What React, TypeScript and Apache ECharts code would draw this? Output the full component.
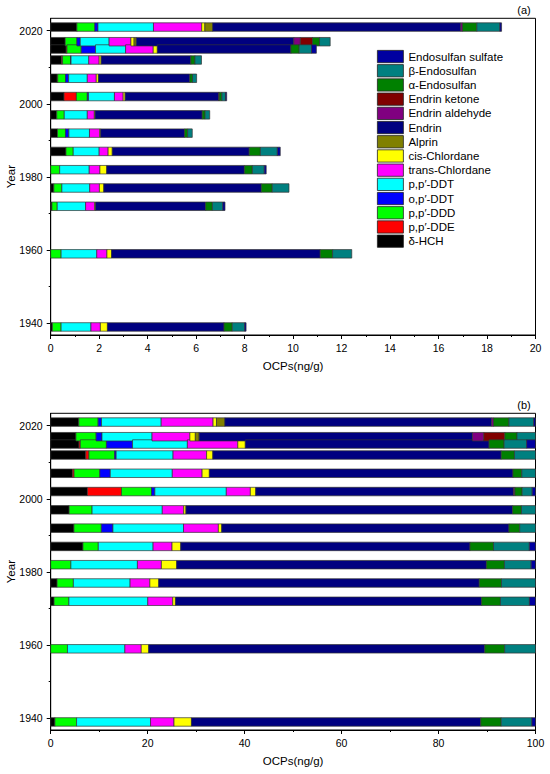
import React, { useEffect, useRef } from 'react';
import * as echarts from 'echarts';

// Sampling years (bar positions)
const years = [2021, 2017, 2015, 2012, 2007, 2002, 1997, 1992, 1987, 1982, 1977, 1972, 1959, 1939];

// Compounds in stacking order (left to right)
const compounds = [
  'δ-HCH', "p,p′-DDE", "p,p′-DDD", "o,p′-DDT", "p,p′-DDT", 'trans-Chlordane', 'cis-Chlordane',
  'Alprin', 'Endrin', 'Endrin aldehyde', 'Endrin ketone', 'α-Endosulfan', 'β-Endosulfan', 'Endosulfan sulfate',
];
const compoundColors = [
  '#000000', '#FF0000', '#00FF00', '#0000FF', '#00FFFF', '#FF00FF', '#FFFF00',
  '#808000', '#000080', '#800080', '#800000', '#008000', '#008080', '#0000A0',
];

// Concentrations (ng/g), one value per year above
const dHCH = [1.08, 0.60, 0.64, 0.45, 0.27, 0.55, 0.25, 0.28, 0.63, 0, 0.13, 0.05, 0, 0.07];
const ppDDE = [0, 0, 0.03, 0.04, 0.02, 0.51, 0, 0, 0, 0, 0, 0, 0, 0];
const ppDDD = [0.74, 0.48, 0.59, 0.33, 0.32, 0.45, 0.31, 0.33, 0.30, 0.37, 0.33, 0.22, 0.43, 0.36];
const opDDT = [0.13, 0.14, 0.59, 0.02, 0.13, 0.05, 0, 0.14, 0, 0, 0, 0, 0, 0];
const ppDDT = [2.29, 1.19, 1.24, 0.73, 0.77, 1.07, 0.95, 0.85, 1.07, 1.22, 1.15, 1.17, 1.47, 1.23];
const transChlordane = [1.99, 0.90, 1.14, 0.43, 0.37, 0.36, 0.29, 0.42, 0.37, 0.44, 0.40, 0.37, 0.42, 0.39];
const cisChlordane = [0.13, 0.13, 0.17, 0.08, 0.09, 0.08, 0.03, 0.04, 0.17, 0.28, 0.18, 0.04, 0.19, 0.29];
const alprin = [0.32, 0.09, 0, 0, 0, 0, 0, 0, 0, 0, 0, 0, 0, 0];
const endrin = [10.24, 6.50, 5.51, 3.70, 3.77, 3.86, 4.42, 3.46, 5.65, 5.68, 6.50, 4.54, 8.61, 4.81];
const endrinAldehyde = [0.07, 0.27, 0, 0, 0, 0.02, 0, 0, 0, 0, 0, 0, 0, 0];
const endrinKetone = [0, 0.50, 0, 0, 0, 0, 0, 0, 0, 0, 0, 0, 0, 0];
const aEndosulfan = [0.59, 0.29, 0.34, 0.17, 0.11, 0.11, 0.12, 0.13, 0.46, 0.33, 0.45, 0.28, 0.51, 0.34];
const bEndosulfan = [0.95, 0.44, 0.51, 0.27, 0.17, 0.15, 0.19, 0.19, 0.70, 0.49, 0.69, 0.43, 0.79, 0.51];
const endosulfanSulfate = [0.07, 0, 0.20, 0, 0, 0.05, 0, 0, 0.12, 0.08, 0, 0.09, 0, 0.06];

const values = [
  dHCH, ppDDE, ppDDD, opDDT, ppDDT, transChlordane, cisChlordane,
  alprin, endrin, endrinAldehyde, endrinKetone, aEndosulfan, bEndosulfan, endosulfanSulfate,
];

// Axis ticks
const yLabelTicks = [1940, 1960, 1980, 2000, 2020];
const yMinorTicks = [1950, 1970, 1990, 2010];

const FONT = '"Liberation Sans", Arial, Helvetica, sans-serif';
const BAR_H = 8.5;

function buildSegments(percent: boolean) {
  const out: number[][][] = compounds.map(() => []);
  years.forEach((yr, j) => {
    const total = values.reduce((s, arr) => s + arr[j], 0);
    let acc = 0;
    values.forEach((arr, i) => {
      const v = percent ? (arr[j] / total) * 100 : arr[j];
      if (arr[j] > 0) out[i].push([yr, acc, acc + v]);
      acc += v;
    });
  });
  return out;
}

const renderItem = (params: any, api: any) => {
  const y = api.value(0);
  const s = api.value(1);
  const e = api.value(2);
  const p0 = api.coord([s, y]);
  const p1 = api.coord([e, y]);
  return {
    type: 'rect',
    shape: { x: p0[0], y: p0[1] - BAR_H / 2, width: p1[0] - p0[0], height: BAR_H },
    style: { fill: api.visual('color'), stroke: '#333', lineWidth: 0.7 },
  };
};

function xAxisCfg(gridIndex: number, max: number, interval: number) {
  return {
    type: 'value', gridIndex, min: 0, max, interval,
    position: 'bottom',
    axisLine: { show: true, lineStyle: { color: '#000', width: 1 } },
    axisTick: { show: true, length: 4, lineStyle: { color: '#000' } },
    minorTick: { show: true, splitNumber: 2, length: 2, lineStyle: { color: '#000' } },
    splitLine: { show: false },
    axisLabel: { color: '#000', fontSize: 10.5, fontFamily: FONT, margin: 7 },
    name: 'OCPs(ng/g)', nameLocation: 'middle', nameGap: 25, nameMoveOverlap: false,
    nameTextStyle: { color: '#000', fontSize: 11.5, fontFamily: FONT },
  };
}

function yAxisMain(gridIndex: number) {
  return {
    type: 'value', gridIndex, min: 1936.8, max: 2023.4, position: 'left',
    axisLine: { show: true, lineStyle: { color: '#000', width: 1 } },
    axisTick: { show: true, length: 4, customValues: yLabelTicks, lineStyle: { color: '#000' } },
    axisLabel: {
      color: '#000', fontSize: 10.5, fontFamily: FONT, margin: 8, customValues: yLabelTicks,
      formatter: (v: number) => String(Math.round(v)),
    },
    splitLine: { show: false },
    name: 'Year', nameLocation: 'middle', nameGap: 34, nameRotate: 90, nameMoveOverlap: false,
    nameTextStyle: { color: '#000', fontSize: 11.5, fontFamily: FONT },
  };
}

function yAxisMinor(gridIndex: number) {
  return {
    type: 'value', gridIndex, min: 1936.8, max: 2023.4, position: 'left', offset: 0,
    axisLine: { show: false },
    axisTick: { show: true, length: 2, customValues: yMinorTicks, lineStyle: { color: '#000' } },
    axisLabel: { show: false },
    splitLine: { show: false },
  };
}

export default function App() {
  const ref = useRef<HTMLDivElement>(null);
  useEffect(() => {
    if (!ref.current) return;
    const chart = echarts.init(ref.current, undefined, { renderer: 'svg' });
    const segA = buildSegments(false);
    const segB = buildSegments(true);
    const series: any[] = [];
    compounds.forEach((name, i) => {
      series.push({
        type: 'custom', name, xAxisIndex: 0, yAxisIndex: 0,
        itemStyle: { color: compoundColors[i] },
        encode: { x: [1, 2], y: 0 },
        renderItem, data: segA[i],
      });
      series.push({
        type: 'custom', name, xAxisIndex: 1, yAxisIndex: 2,
        itemStyle: { color: compoundColors[i] },
        encode: { x: [1, 2], y: 0 },
        renderItem, data: segB[i],
      });
    });
    chart.setOption({
      animation: false,
      backgroundColor: '#fff',
      textStyle: { fontFamily: FONT },
      grid: [
        { left: 50.7, top: 18.3, width: 484.8, height: 316.7, show: true, borderColor: '#000', borderWidth: 1, containLabel: false, outerBoundsMode: 'none' },
        { left: 50.7, top: 413.3, width: 484.8, height: 316.7, show: true, borderColor: '#000', borderWidth: 1, containLabel: false, outerBoundsMode: 'none' },
      ],
      xAxis: [xAxisCfg(0, 20, 2), xAxisCfg(1, 100, 20)],
      yAxis: [yAxisMain(0), yAxisMinor(0), yAxisMain(1), yAxisMinor(1)],
      legend: {
        orient: 'vertical', left: 377, top: 50, padding: 0,
        itemWidth: 26, itemHeight: 12.3, itemGap: 1.1, icon: 'rect',
        itemStyle: { borderColor: '#222', borderWidth: 0.8 },
        textStyle: { color: '#000', fontSize: 11.5, fontFamily: FONT, lineHeight: 12.3 },
        data: compounds.slice().reverse(),
        selectedMode: false,
      },
      graphic: [
        { type: 'text', x: 524, y: 10, style: { text: '(a)', fontSize: 11, fontFamily: FONT, fill: '#000', align: 'center', verticalAlign: 'middle' } },
        { type: 'text', x: 524, y: 405, style: { text: '(b)', fontSize: 11, fontFamily: FONT, fill: '#000', align: 'center', verticalAlign: 'middle' } },
      ],
      series,
    });
    return () => chart.dispose();
  }, []);
  return <div ref={ref} style={{ position: 'fixed', left: 0, top: 0, width: 550, height: 774 }} />;
}
